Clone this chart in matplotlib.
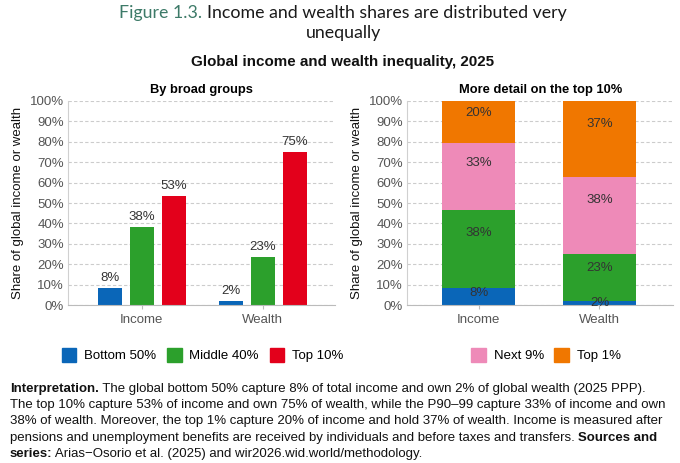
import matplotlib
matplotlib.use("Agg")
import matplotlib.pyplot as plt
from matplotlib.patches import Patch
import numpy as np

plt.rcParams['font.family'] = ['Liberation Sans', 'DejaVu Sans']

categories = ["Income", "Wealth"]
bottom50 = [8.3, 1.8]
middle40 = [38.4, 23.4]
next9 = [32.9, 37.7]
top1 = [20.4, 37.1]
top10 = [a + b for a, b in zip(next9, top1)]
yticks = [0, 10, 20, 30, 40, 50, 60, 70, 80, 90, 100]

c_blue = "#0a66b8"
c_green = "#2ca02c"
c_red = "#e3001b"
c_pink = "#ee8ab8"
c_orange = "#f07700"
txt = "#333333"

fig = plt.figure(figsize=(6.8, 4.63), dpi=100)
ax1 = fig.add_axes([0.100, 0.341, 0.393, 0.441])
ax2 = fig.add_axes([0.599, 0.341, 0.391, 0.441])

def style(ax):
    ax.set_ylim(0, 100)
    ax.set_yticks(yticks)
    ax.set_yticklabels([f"{t}%" for t in yticks])
    ax.grid(axis='y', linestyle=(0, (3, 2)), color="#cccccc", linewidth=0.8)
    ax.set_axisbelow(True)
    for s in ['top', 'right']:
        ax.spines[s].set_visible(False)
    ax.spines['left'].set_color("#d0d0d0")
    ax.spines['bottom'].set_color("#bbbbbb")
    ax.tick_params(axis='y', length=0, labelsize=9.5, labelcolor="#555555", pad=3)
    ax.tick_params(axis='x', length=3, color="#bbbbbb", labelsize=9.5, labelcolor="#555555")
    ax.set_ylabel("Share of global income or wealth", fontsize=9.5, color="#111111", labelpad=4)

# left panel: grouped bars
x = np.arange(len(categories))
w = 0.2
off = 0.265
for series, dx, col in [(bottom50, -off, c_blue), (middle40, 0, c_green), (top10, off, c_red)]:
    bars = ax1.bar(x + dx, series, w, color=col)
    for b, v in zip(bars, series):
        ax1.annotate(f"{round(v)}%", (b.get_x() + b.get_width() / 2, v),
                     xytext=(0, 3), textcoords='offset points', ha='center', va='bottom',
                     fontsize=9.5, color=txt)
style(ax1)
ax1.set_xlim(-0.61, 1.6)
ax1.set_xticks(x)
ax1.set_xticklabels(categories)
ax1.set_title("By broad groups", fontsize=9.3, fontweight='bold', pad=6)

# right panel: stacked bars
base = np.zeros(len(categories))
for series, col in [(bottom50, c_blue), (middle40, c_green), (next9, c_pink), (top1, c_orange)]:
    vals = np.array(series)
    ax2.bar(x, vals, 0.6, bottom=base, color=col)
    for xi, b0, v in zip(x, base, vals):
        ax2.text(xi, b0 + 0.7 * v, f"{round(v)}%", ha='center', va='center',
                 fontsize=9.5, color=txt)
    base = base + vals
style(ax2)
ax2.set_xlim(-0.59, 1.61)
ax2.set_xticks(x)
ax2.set_xticklabels(categories)
ax2.set_title("More detail on the top 10%", fontsize=9.3, fontweight='bold', pad=6)

# legends
h1 = [Patch(color=c_blue, label="Bottom 50%"), Patch(color=c_green, label="Middle 40%"),
      Patch(color=c_red, label="Top 10%")]
h2 = [Patch(color=c_pink, label="Next 9%"), Patch(color=c_orange, label="Top 1%")]
leg_kw = dict(frameon=False, fontsize=9.5, handlelength=1.1, handleheight=1.3,
              handletextpad=0.6, columnspacing=0.8, loc='center')
fig.legend(handles=h1, ncol=3, bbox_to_anchor=(0.298, 0.233), **leg_kw)
fig.legend(handles=h2, ncol=2, bbox_to_anchor=(0.803, 0.233), **leg_kw)

# titles
fig.text(0.297, 0.973, "Figure 1.3.", ha='right', va='center', fontsize=12.8,
         family='Lato', color="#3d7a68")
fig.text(0.305, 0.973, "Income and wealth shares are distributed very", ha='left',
         va='center', fontsize=12.8, family='Lato', color="#1a1a1a")
fig.text(0.505, 0.928, "unequally", ha='center', va='center', fontsize=12.8,
         family='Lato', color="#1a1a1a")
fig.text(0.504, 0.866, "Global income and wealth inequality, 2025", ha='center',
         va='center', fontsize=10.9, fontweight='bold', color="#111111")

# note with bold runs
lines = [
    [("Interpretation.", True), (" The global bottom 50% capture 8% of total income and own 2% of global wealth (2025 PPP).", False)],
    [("The top 10% capture 53% of income and own 75% of wealth, while the P90\u201399 capture 33% of income and own", False)],
    [("38% of wealth. Moreover, the top 1% capture 20% of income and hold 37% of wealth. Income is measured after", False)],
    [("pensions and unemployment benefits are received by individuals and before taxes and transfers. ", False), ("Sources and", True)],
    [("series:", True), (" Arias\u2212Osorio et al. (2025) and wir2026.wid.world/methodology.", False)],
]
renderer = fig.canvas.get_renderer()
y0 = 1 - 389 / 463
dy = 16.2 / 463
for i, segs in enumerate(lines):
    xpos = 10 / 680
    for s, bold in segs:
        t = fig.text(xpos, y0 - i * dy, s, ha='left', va='center', fontsize=9.55,
                     fontweight='bold' if bold else 'normal', color="#111111")
        bb = t.get_window_extent(renderer=renderer)
        xpos += bb.width / fig.bbox.width

fig.savefig("out.png", dpi=100)
